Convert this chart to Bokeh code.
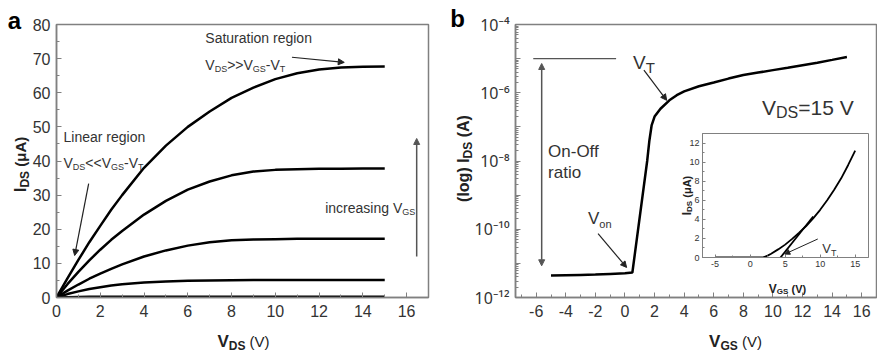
import math
from bokeh.plotting import figure
from bokeh.models import (Range1d, SingleIntervalTicker, FixedTicker, Label, Arrow,
                          NormalHead, CustomJSTickFormatter, GridBox)
from bokeh.embed import file_html
from bokeh.resources import INLINE

# ---------------- data ----------------
# panel a : output characteristics
vds = [0, 0.5, 1, 1.5, 2, 2.5, 3, 4, 5, 6, 7, 8, 9, 10, 11, 12, 13, 14, 15]
ids_1 = [0, 5.6, 11, 16.2, 21, 25.7, 30, 38, 44.5, 50, 54.5, 58.5, 61.5, 64, 65.7, 66.8, 67.4, 67.6, 67.7]
ids_2 = [0, 3.9, 7.5, 10.9, 14, 16.9, 19.5, 24.3, 28.3, 31.6, 34.0, 35.8, 36.9, 37.4, 37.6, 37.7, 37.7, 37.8, 37.8]
ids_3 = [0, 2.0, 3.8, 5.5, 7.0, 8.4, 9.7, 12.0, 13.8, 15.2, 16.2, 16.8, 17.0, 17.1, 17.2, 17.2, 17.2, 17.2, 17.2]
ids_4 = [0, 1.0, 1.8, 2.5, 3.0, 3.5, 3.9, 4.4, 4.7, 4.9, 5.0, 5.05, 5.1, 5.1, 5.1, 5.1, 5.1, 5.1, 5.1]
ids_5 = [0, 0.1, 0.15, 0.2, 0.2, 0.2, 0.2, 0.2, 0.2, 0.2, 0.2, 0.2, 0.2, 0.2, 0.2, 0.2, 0.2, 0.2, 0.2]
a_curves = [ids_1, ids_2, ids_3, ids_4, ids_5]

# panel b : transfer characteristic (log)
vgs_b = [-5, -4, -3, -2, -1, 0, 0.5, 1.5, 1.65, 1.8, 2.0, 2.4, 3.0, 3.5, 4, 5, 6, 7, 8, 9, 10, 11, 12, 13, 14, 15]
ids_b = [4.4e-12, 4.5e-12, 4.6e-12, 4.7e-12, 4.9e-12, 5.1e-12, 5.4e-12, 1.0e-8, 4.0e-8, 1.1e-7,
         2.0e-7, 3.4e-7, 6.0e-7, 8.5e-7, 1.1e-6, 1.55e-6, 2.0e-6, 2.6e-6, 3.3e-6, 3.9e-6,
         4.6e-6, 5.4e-6, 6.4e-6, 7.6e-6, 9.2e-6, 1.12e-5]
onoff_x = [-6.2, -0.6]
onoff_y = [1e-5, 1e-5]

# inset : linear transfer
vgs_in = [-5, 0, 1, 1.5, 2, 2.5, 3, 4, 5, 6, 7, 8, 9, 10, 11, 12, 13, 14, 15]
ids_in = [0, 0, 0, 0.01, 0.05, 0.2, 0.4, 0.85, 1.35, 1.95, 2.6, 3.3, 4.1, 5.0, 6.0, 7.1, 8.3, 9.7, 11.2]
tan_x = [3.2, 9.0]
tan_y = [-1.05, 4.3]

# ---------------- helpers ----------------
FONT = "Liberation Sans"
GRAY = "#808080"
TXT = "#333333"
REG = {' ': .278, '(': .333, ')': .333, '-': .333, '=': .584, '>': .584, '<': .584, '0': .556, '1': .556,
       '5': .556, 'A': .667, 'D': .722, 'G': .778, 'I': .278, 'S': .667, 'T': .611, 'V': .667, 'μ': .576,
       'a': .556, 'c': .5, 'e': .556, 'g': .556, 'i': .222, 'n': .556, 'o': .556, 'r': .333, 's': .5,
       't': .278, 'u': .556, 'l': .222, 'O': .778, 'f': .278, 'L': .556}
BOLD = {' ': .278, '(': .333, ')': .333, 'A': .722, 'D': .722, 'G': .778, 'I': .278, 'S': .667, 'T': .611,
        'V': .667, 'μ': .611, 'g': .611, 'l': .278, 'o': .611}

PLAIN = CustomJSTickFormatter(code="return tick.toString();")


def tw(s, size, bold):
    t = BOLD if bold else REG
    return sum(t.get(c, 0.556) for c in s) * size


def rich(p, x, y, pieces, angle=0.0, anchor="left", color=TXT):
    total = sum(tw(t, s, b) for t, s, b, d in pieces)
    off = 0.0 if anchor == "left" else -total / 2.0
    for t, s, b, d in pieces:
        txt = t.lstrip(" ")
        start = off + tw(t[:len(t) - len(txt)], s, b)
        if angle == 0:
            xo, yo = start, d
        else:
            xo, yo = -d, start
        p.add_layout(Label(x=x, y=y, x_offset=xo, y_offset=yo, text=txt, angle=angle,
                           text_font=FONT, text_font_size=f"{s}px",
                           text_font_style="bold" if b else "normal",
                           text_align="left", text_baseline="alphabetic", text_color=color))
        off += tw(t, s, b)


def label(p, x, y, text, size, bold=False, align="left", baseline="middle", color=TXT):
    p.add_layout(Label(x=x, y=y, text=text, text_font=FONT, text_font_size=f"{size}px",
                       text_font_style="bold" if bold else "normal", text_align=align,
                       text_baseline=baseline, text_color=color))


def arrow(p, x0, y0, x1, y1, color="#222222", width=1.2, size=6, both=False):
    head = dict(size=size, fill_color=color, line_color=color, line_width=1)
    p.add_layout(Arrow(x_start=x0, y_start=y0, x_end=x1, y_end=y1, line_color=color, line_width=width,
                       end=NormalHead(**head), start=NormalHead(**head) if both else None))


def style(p, tick_size, tin=5, mtin=3, lw=1.5):
    p.outline_line_color = GRAY
    p.outline_line_width = lw
    p.xgrid.visible = False
    p.ygrid.visible = False
    p.background_fill_color = "white"
    p.frame_align = False
    for ax in (p.xaxis[0], p.yaxis[0]):
        ax.axis_line_color = GRAY
        ax.axis_line_width = lw
        ax.major_tick_line_color = GRAY
        ax.minor_tick_line_color = GRAY
        ax.major_tick_in = tin
        ax.major_tick_out = 0
        ax.minor_tick_in = mtin
        ax.minor_tick_out = 0
        ax.major_label_text_font = FONT
        ax.major_label_text_font_size = tick_size
        ax.major_label_text_color = TXT
        ax.axis_label = None


# ---------------- panel a ----------------
pa = figure(width=448, height=346, x_range=Range1d(0, 17), y_range=Range1d(0, 80),
            output_backend="svg", toolbar_location=None,
            min_border_left=56, min_border_right=20, min_border_top=24, min_border_bottom=49)
style(pa, "16px")
pa.xaxis.ticker = SingleIntervalTicker(interval=2, num_minor_ticks=2)
pa.yaxis.ticker = SingleIntervalTicker(interval=10, num_minor_ticks=2)
pa.xaxis.formatter = PLAIN
pa.yaxis.formatter = PLAIN
pa.xaxis.major_label_standoff = 7
pa.yaxis.major_label_standoff = 6
for c in a_curves:
    pa.line(vds, c, line_color="black", line_width=2.5)

label(pa, 6.8, 75.95, "Saturation region", 14)
rich(pa, 6.8, 68.0, [("V", 14, False, 0), ("DS", 9, False, -4), (">>V", 14, False, 0),
                     ("GS", 9, False, -4), ("-V", 14, False, 0), ("T", 9, False, -4)])
arrow(pa, 10.76, 70.4, 13.15, 68.9)
label(pa, 0.32, 46.9, "Linear region", 14)
rich(pa, 0.32, 39.3, [("V", 14, False, 0), ("DS", 9, False, -4), ("<<V", 14, False, 0),
                      ("GS", 9, False, -4), ("-V", 14, False, 0), ("T", 9, False, -4)])
arrow(pa, 1.47, 33.4, 0.83, 12.3)
rich(pa, 12.28, 26.1, [("increasing V", 14, False, 0), ("GS", 9, False, -4)])
arrow(pa, 16.46, 12, 16.46, 46.6, color="#555555", width=1.5)

# ---------------- panel b ----------------
pb = figure(width=429, height=346, x_range=Range1d(-7.4, 17.0), y_range=Range1d(1e-12, 1e-4),
            y_axis_type="log", output_backend="svg", toolbar_location=None,
            min_border_left=67, min_border_right=1, min_border_top=24, min_border_bottom=49)
style(pb, "16px")
pb.xaxis.ticker = SingleIntervalTicker(interval=2, num_minor_ticks=2)
pb.xaxis.formatter = PLAIN
pb.xaxis.major_label_standoff = 7
pb.yaxis.ticker = FixedTicker(ticks=[10.0 ** k for k in range(-12, -3)],
                              minor_ticks=[m * 10.0 ** k for k in range(-12, -4) for m in range(2, 10)])
pb.yaxis.formatter = CustomJSTickFormatter(code="""
const e = Math.round(Math.log10(tick));
if (Math.abs(e) % 2 == 1) { return ""; }
const m = {"-": "\u207b", "0": "\u2070", "1": "\u00b9", "2": "\u00b2", "3": "\u00b3", "4": "\u2074",
           "5": "\u2075", "6": "\u2076", "7": "\u2077", "8": "\u2078", "9": "\u2079"};
return "10" + String(e).split("").map(c => m[c]).join("");
""")
pb.yaxis.major_label_text_font = "Noto Sans"
pb.yaxis.major_label_text_font_size = "16px"
pb.yaxis.major_label_standoff = 6
pb.line(vgs_b, ids_b, line_color="black", line_width=2.5)
pb.line(onoff_x, onoff_y, line_color="#555555", line_width=1.3)
arrow(pb, -5.63, 7.2e-6, -5.63, 8.5e-12, color="#555555", width=1.5, both=True)
label(pb, -5.2, 1.95e-8, "On-Off", 17)
label(pb, -5.2, 4.6e-9, "ratio", 17)
rich(pb, 0.54, 7.8e-6, [("V", 19, False, 0), ("T", 15, False, -5)])
arrow(pb, 1.28, 4.6e-6, 2.82, 6.0e-7)
rich(pb, 9.26, 3.7e-7, [("V", 21, False, 0), ("DS", 16, False, -5), ("=15 V", 21, False, 0)])
rich(pb, -2.5, 2.0e-10, [("V", 17, False, 0), ("on", 11, False, -5)])
arrow(pb, -1.82, 7.4e-11, 0.11, 7.6e-12)

# ---------------- inset ----------------
pin = figure(width=206, height=164, x_range=Range1d(-6.8, 16.9), y_range=Range1d(0, 13),
             output_backend="svg", toolbar_location=None,
             min_border_left=36, min_border_right=4, min_border_top=4, min_border_bottom=36)
style(pin, "9px", tin=3, mtin=2, lw=1)
pin.border_fill_color = None
pin.xaxis.ticker = SingleIntervalTicker(interval=5, num_minor_ticks=2)
pin.yaxis.ticker = SingleIntervalTicker(interval=2, num_minor_ticks=2)
pin.xaxis.formatter = PLAIN
pin.yaxis.formatter = PLAIN
pin.xaxis.major_label_standoff = 3
pin.yaxis.major_label_standoff = 3
pin.line(vgs_in, ids_in, line_color="black", line_width=1.8)
pin.line(tan_x, tan_y, line_color="black", line_width=1.8)
rich(pin, 10.3, 0.9, [("V", 13, False, 0), ("T", 9, False, -4)])
arrow(pin, 9.66, 1.94, 4.95, 0.36, width=1, size=5)
pin.margin = (129, 0, 0, 218)

# ---------------- overlay for texts outside the frames (page pixel coords) ----------------
ov = figure(width=877, height=352, x_range=Range1d(0, 877), y_range=Range1d(352, 0),
            x_axis_location=None, y_axis_location=None, output_backend="svg", toolbar_location=None,
            min_border=0, min_border_left=0, min_border_right=0, min_border_top=0, min_border_bottom=0)
ov.outline_line_color = None
ov.background_fill_color = None
ov.border_fill_color = None
ov.grid.visible = False
ov.frame_align = False

label(ov, 14, 20, "a", 24, bold=True, align="center", baseline="alphabetic", color="black")
label(ov, 457, 18, "b", 24, bold=True, align="center", baseline="alphabetic", color="black")
rich(ov, 243, 341, [("V", 17, True, 0), ("DS", 12, True, -4), (" (V)", 15, False, 0)],
     anchor="center", color="#222222")
rich(ov, 20, 164, [("I", 17, True, 0), ("DS", 12, True, -4), (" (μA)", 15, True, 0)],
     angle=math.pi / 2, anchor="center", color="#222222")
rich(ov, 735, 341, [("V", 17, True, 0), ("GS", 12, True, -4), (" (V)", 15, False, 0)],
     anchor="center", color="#222222")
rich(ov, 463, 158, [("(log) I", 16, True, 0), ("DS", 12, True, -4), (" (A)", 16, True, 0)],
     angle=math.pi / 2, anchor="center", color="#222222")
rich(ov, 787, 288, [("V", 12, True, 0), ("GS", 8, True, -3), (" (V)", 11, True, 0)],
     anchor="center", color="#222222")
rich(ov, 686, 195, [("I", 12, True, 0), ("DS", 8, True, -3), (" (μA)", 11, True, 0)],
     angle=math.pi / 2, anchor="center", color="#222222")

layout = GridBox(children=[(pa, 0, 0), (pb, 0, 1), (pin, 0, 1), (ov, 0, 0, 1, 2)], spacing=0)

open("out.html", "w").write(file_html(layout, INLINE))
